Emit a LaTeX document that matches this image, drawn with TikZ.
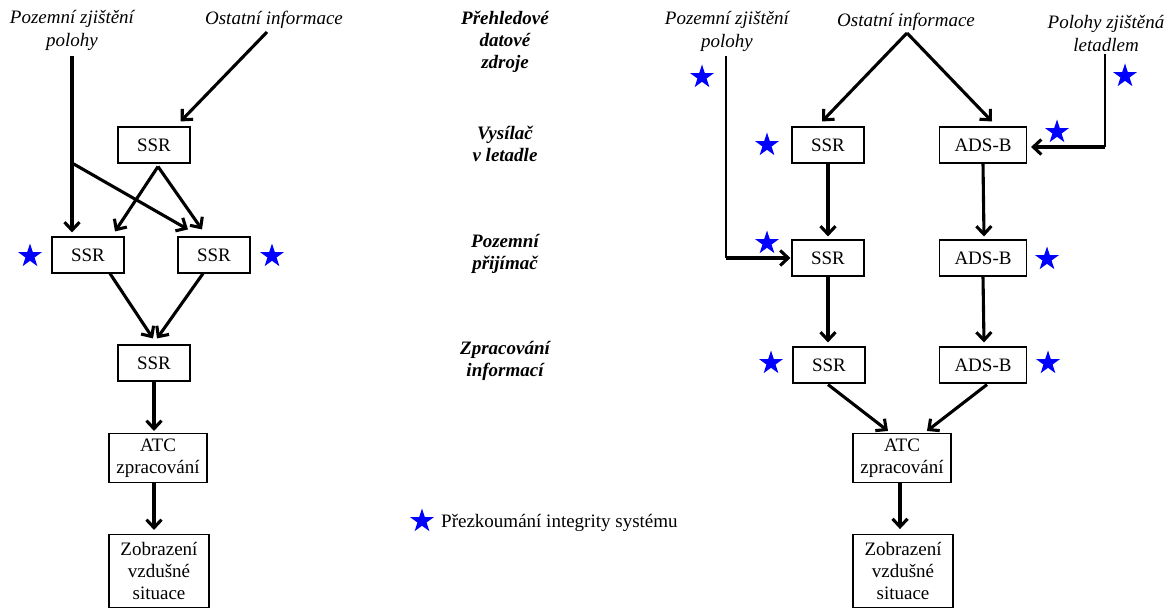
\documentclass[tikz,border=0pt]{standalone}
\usepackage{fontspec}
\setmainfont{Liberation Serif}
\usetikzlibrary{arrows.meta,shapes.geometric,calc}
\begin{document}
\begin{tikzpicture}[x=1pt,y=-1pt,
  box/.style={draw, line width=1.1pt, inner sep=0pt, font=\fontsize{19}{22}\selectfont, align=center},
  lbl/.style={font=\fontsize{19}{23}\selectfont\itshape, align=center, inner sep=0pt},
  rowlbl/.style={font=\fontsize{19}{22}\selectfont\bfseries\itshape, align=center, inner sep=0pt},
  arr/.style={line width=3.1pt, -{Straight Barb[length=8pt,width=15pt]}},
  thinline/.style={line width=1.3pt},
  st/.style={star, star points=5, star point ratio=2.6, fill=blue, draw=none, minimum size=25pt, inner sep=0pt},
  legend/.style={font=\fontsize{19}{22}\selectfont, inner sep=0pt, anchor=west}]
\useasboundingbox (0,0) rectangle (1172,610);

% ---------- left diagram ----------
\node[lbl] (pozL) at (72,30) {Pozemní zjištění\\polohy};
\node[lbl] (ostL) at (274,20) {Ostatní informace};
\node[box, minimum width=72pt, minimum height=36pt] (ssrT) at (154,145) {SSR};
\node[box, minimum width=72pt, minimum height=36pt] (ssrA) at (88,255) {SSR};
\node[box, minimum width=72pt, minimum height=36pt] (ssrB) at (214,255) {SSR};
\node[box, minimum width=72pt, minimum height=36pt] (ssrM) at (154,363) {SSR};
\node[box, minimum width=98pt, minimum height=49pt] (atcL) at (158,458) {ATC\\zpracování};
\node[box, minimum width=100pt, minimum height=73pt] (zobL) at (159,571) {Zobrazení\\vzdušné\\situace};
\node[st] (stA) at (30,256) {};
\node[st] (stB) at (272,256) {};

\coordinate (oL) at (267,32);
\coordinate (pL) at (72,56);
\coordinate (brL) at (72,163);
\draw[arr] (oL) -- ($(ssrT.north east)+(-10,-5)$);
\draw[arr] (pL) -- ($(ssrA.north)+(-16,-4)$);
\draw[arr] (brL) -- ($(ssrB.north)+(-26,-7)$);
\draw[arr] ($(ssrT.south)+(4,3)$) -- ($(ssrA.north)+(27,-5)$);
\draw[arr] ($(ssrT.south)+(4,3)$) -- ($(ssrB.north)+(-12,-7)$);
\draw[arr] ($(ssrA.south)+(22,0)$) -- ($(ssrM.north)+(-1,-6)$);
\draw[arr] ($(ssrB.south)+(-11,0)$) -- ($(ssrM.north)+(3,-6)$);
\draw[arr] (ssrM.south) -- ($(ssrM.south |- atcL.north)+(0,-2)$);
\draw[arr] (ssrM.south |- atcL.south) -- ($(ssrM.south |- zobL.north)+(0,-4)$);

% ---------- row labels ----------
\node[rowlbl] (r1) at (505,42) {Přehledové\\datové\\zdroje};
\node[rowlbl] (r2) at (505,144) {Vysílač\\v letadle};
\node[rowlbl] (r3) at (505,254) {Pozemní\\přijímač};
\node[rowlbl] (r4) at (505,361) {Zpracování\\informací};

% ---------- right diagram ----------
\node[lbl] (pozR) at (727,31) {Pozemní zjištění\\polohy};
\node[lbl] (ostR) at (906,22) {Ostatní informace};
\node[lbl] (polR) at (1106,33) {Polohy zjištěná\\letadlem};
\node[box, minimum width=72pt, minimum height=36pt] (ssr1) at (828,145) {SSR};
\node[box, minimum width=87pt, minimum height=36pt] (ads1) at (983,145) {ADS-B};
\node[box, minimum width=72pt, minimum height=36pt] (ssr2) at (828,258) {SSR};
\node[box, minimum width=87pt, minimum height=36pt] (ads2) at (983,258) {ADS-B};
\node[box, minimum width=72pt, minimum height=36pt] (ssr3) at (829,365) {SSR};
\node[box, minimum width=87pt, minimum height=36pt] (ads3) at (983,365) {ADS-B};
\node[box, minimum width=98pt, minimum height=49pt] (atcR) at (902,458) {ATC\\zpracování};
\node[box, minimum width=100pt, minimum height=73pt] (zobR) at (903,571) {Zobrazení\\vzdušné\\situace};

\node[st] (s1) at (702,77) {};
\node[st] (s2) at (767,145) {};
\node[st] (s3) at (1057,132) {};
\node[st] (s4) at (1125,76) {};
\node[st] (s5) at (767,243) {};
\node[st] (s6) at (1047,259) {};
\node[st] (s7) at (771,363) {};
\node[st] (s8) at (1048,363) {};

\coordinate (apex) at (907,33);
\coordinate (pR) at (726,56);
\coordinate (cR) at (726,258);
\coordinate (qR) at (1105,54);
\coordinate (dR) at (1105,147);
\draw[arr] (apex) -- ($(ssr1.north)+(-6,-5)$);
\draw[arr] (apex) -- ($(ads1.north)+(9,-5)$);
\draw[thinline] (pR) -- (cR);
\draw[arr] (cR) -- ($(ssr2.west)+(-1,0)$);
\draw[thinline] (qR) -- (dR);
\draw[arr] (dR) -- ($(ads1.east)+(4,2)$);
\draw[arr] (ssr1.south) -- ($(ssr2.north)+(0,-3)$);
\draw[arr] (ads1.south) -- ($(ads2.north)+(1,-3)$);
\draw[arr] (ssr2.south) -- ($(ssr3.north)+(-1,-4)$);
\draw[arr] (ads2.south) -- ($(ads3.north)+(1,-4)$);
\draw[arr] ($(ssr3.south)+(-1,1)$) -- ($(atcR.north)+(-14,-2)$);
\draw[arr] ($(ads3.south)+(4,1)$) -- ($(atcR.north)+(25,-2)$);
\draw[arr] ($(atcR.south)+(-2,0)$) -- ($(atcR.south)+(-2,46)$);

% ---------- legend ----------
\node[st] (sl) at (422,521) {};
\node[legend] (lg) at (441,523) {Přezkoumání integrity systému};
\end{tikzpicture}
\end{document}
